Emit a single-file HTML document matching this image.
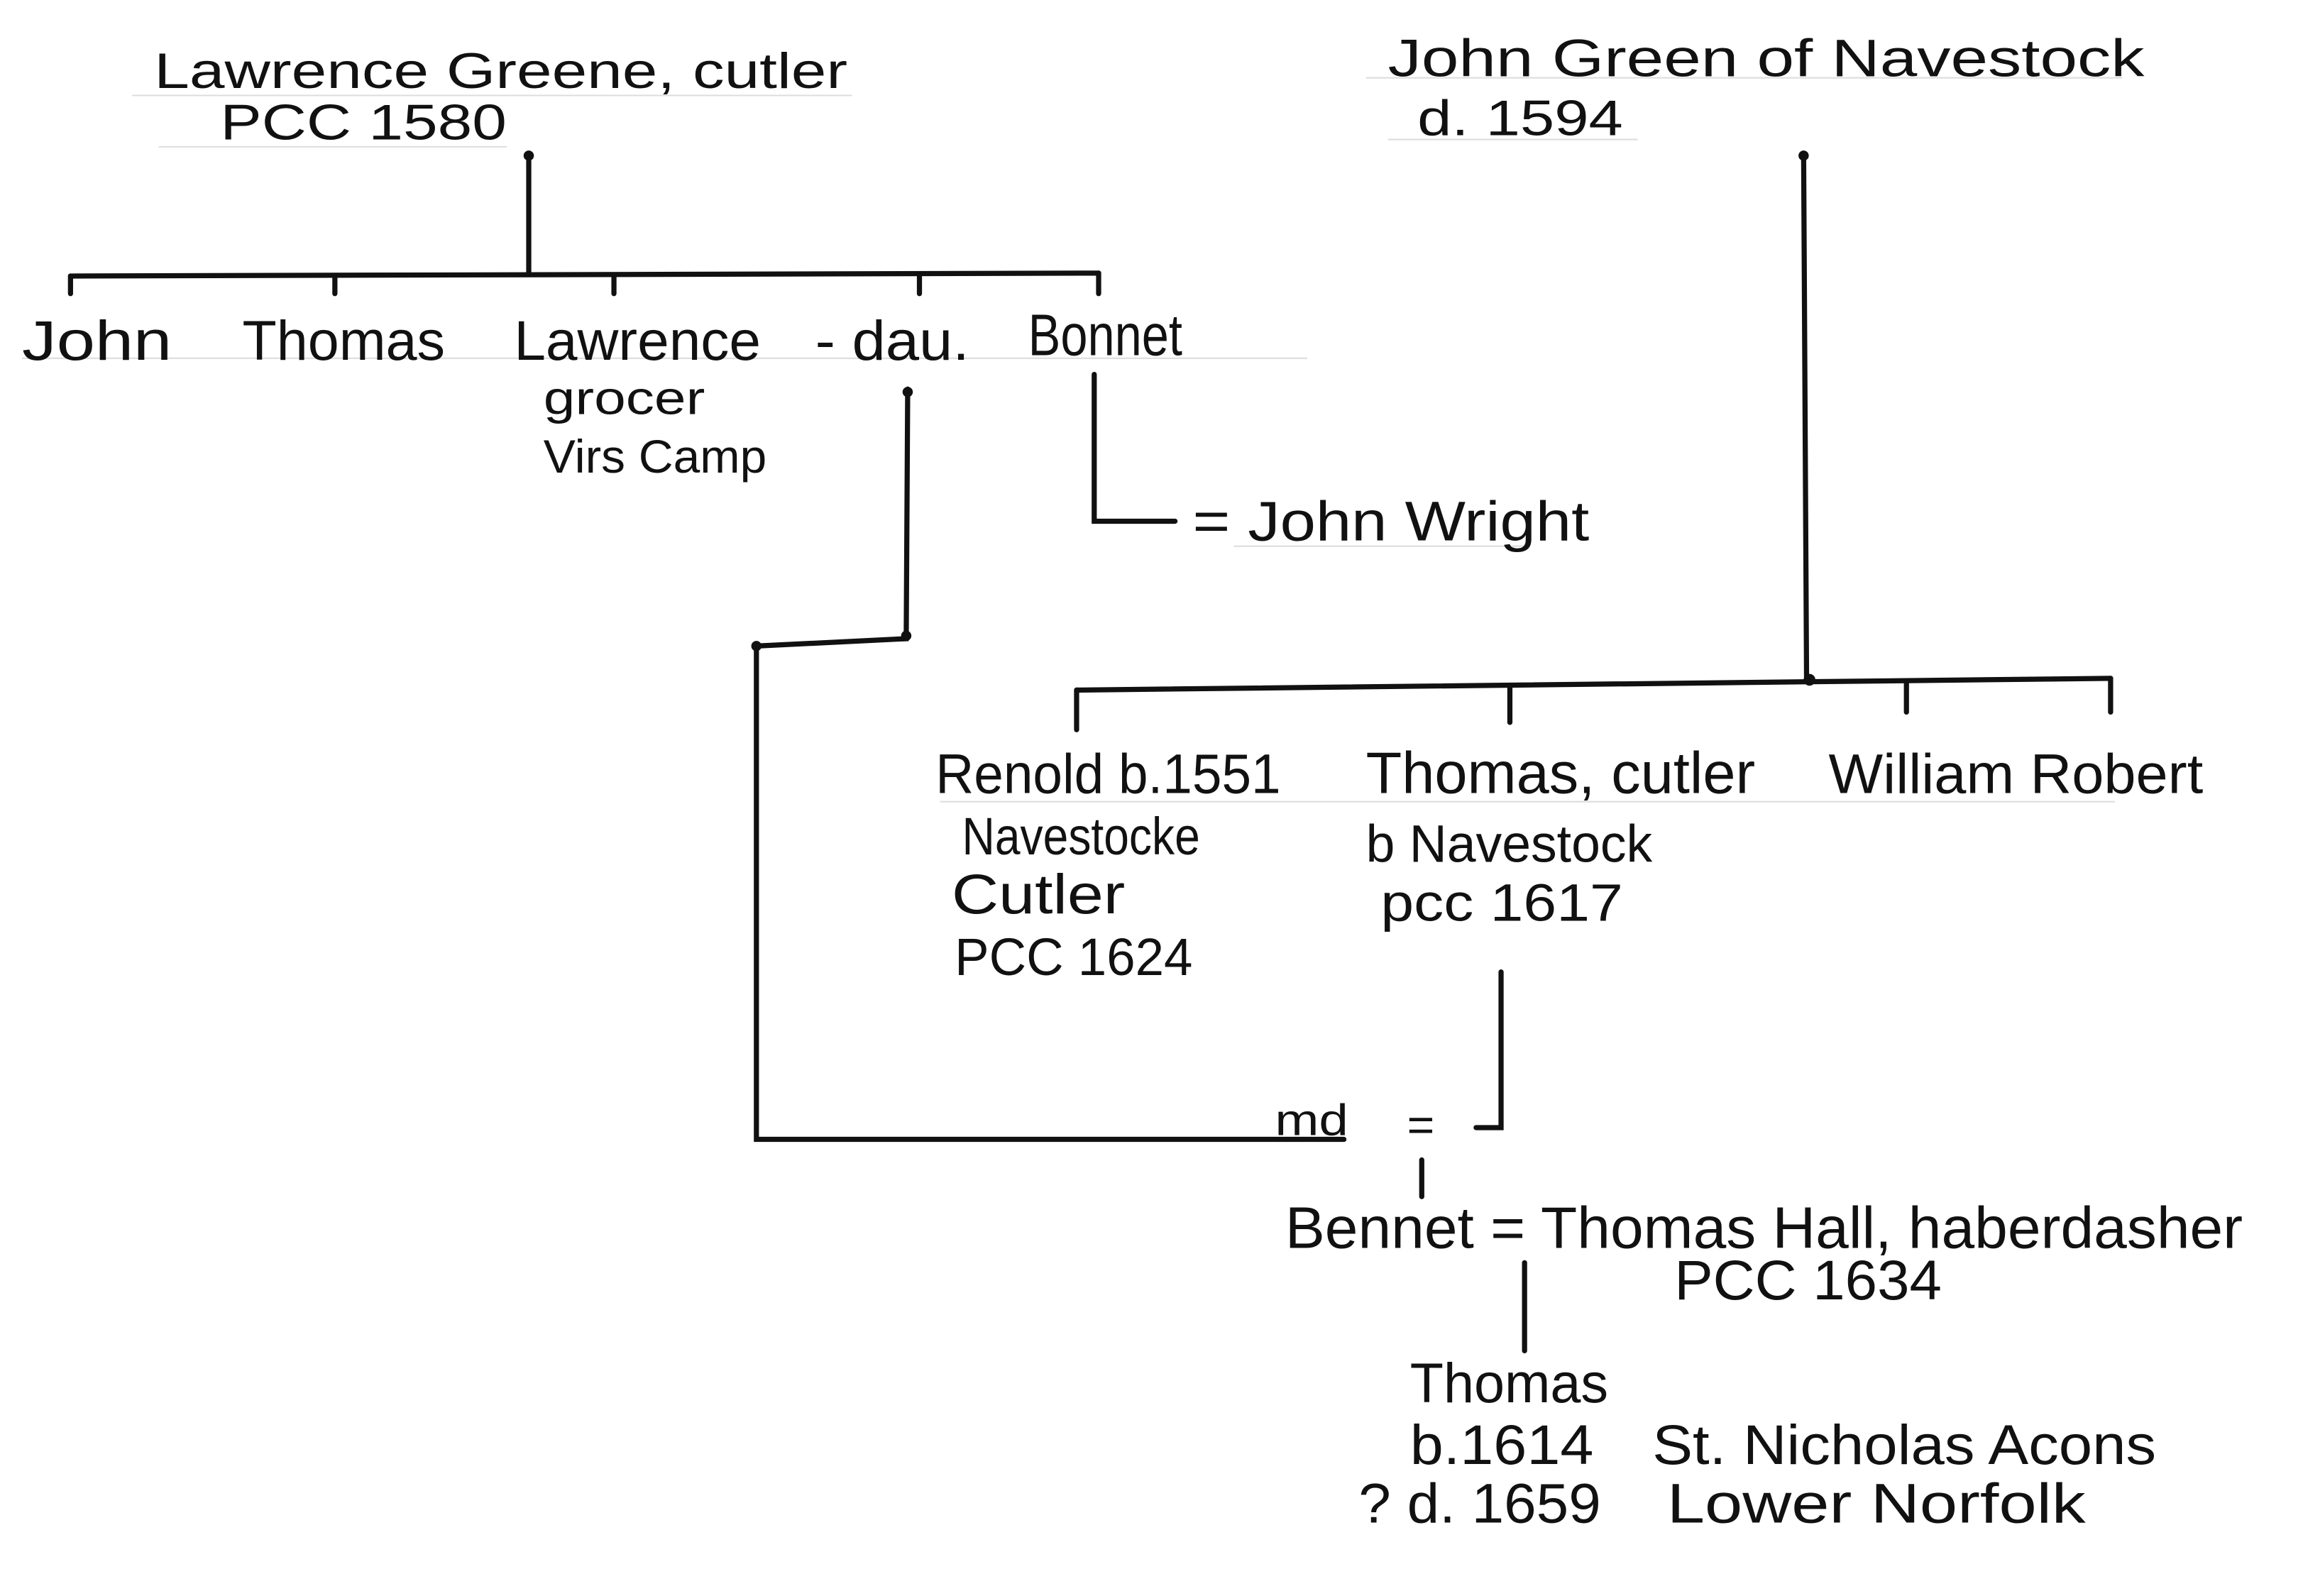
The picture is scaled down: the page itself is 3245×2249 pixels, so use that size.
<!DOCTYPE html>
<html><head><meta charset="utf-8"><style>
html,body{margin:0;padding:0;background:#fff;}
svg{display:block}
text{font-family:"Liberation Sans",sans-serif;fill:#111;}
</style></head><body>
<svg width="3245" height="2249" viewBox="0 0 1568 1087" preserveAspectRatio="none" xmlns="http://www.w3.org/2000/svg">
<rect width="1568" height="1087" fill="#fff"/>
<g stroke="#ddd" stroke-width="1">
<line x1="90" y1="65" x2="580" y2="65"/><line x1="108" y1="100" x2="345" y2="100"/>
<line x1="15" y1="244" x2="890" y2="244"/><line x1="840" y1="372" x2="1040" y2="372"/>
<line x1="930" y1="53" x2="1445" y2="53"/><line x1="945" y1="95" x2="1115" y2="95"/>
<line x1="640" y1="546" x2="1440" y2="546"/>
</g>
<g stroke="#111" stroke-width="3.5" fill="none" stroke-linecap="round">
<line x1="360" y1="105" x2="360" y2="187"/>
<line x1="48" y1="188" x2="748" y2="186"/>
<line x1="48" y1="188" x2="48" y2="200"/><line x1="228" y1="188" x2="228" y2="200"/>
<line x1="418" y1="188" x2="418" y2="200"/><line x1="626" y1="187" x2="626" y2="200"/>
<line x1="748" y1="186" x2="748" y2="200"/>
<polyline points="618,265 617,435 515,440 515,776 915,776"/>
<polyline points="745,255 745,355 800,355"/>
<line x1="1228" y1="105" x2="1230" y2="462"/>
<line x1="733" y1="470" x2="1437" y2="462"/>
<line x1="733" y1="470" x2="733" y2="497"/><line x1="1028" y1="467" x2="1028" y2="492"/>
<line x1="1298" y1="465" x2="1298" y2="485"/><line x1="1437" y1="462" x2="1437" y2="485"/>
<polyline points="1022,662 1022,768 1005,768"/>
<line x1="968" y1="790" x2="968" y2="815"/>
<line x1="1038" y1="860" x2="1038" y2="920"/>
</g>
<g fill="#111">
<circle cx="360" cy="106" r="3.5"/><circle cx="1228" cy="106" r="3.5"/>
<circle cx="1232" cy="463" r="4"/><circle cx="617" cy="433" r="3.5"/><circle cx="515" cy="440" r="3.5"/>
<circle cx="618" cy="267" r="3.5"/>
</g>
<text x="105" y="60" font-size="34" textLength="472" lengthAdjust="spacingAndGlyphs">Lawrence Greene, cutler</text>
<text x="150" y="95" font-size="34" textLength="195" lengthAdjust="spacingAndGlyphs">PCC  1580</text>
<text x="15" y="245" font-size="38" textLength="102" lengthAdjust="spacingAndGlyphs">John</text>
<text x="165" y="245" font-size="38" textLength="138" lengthAdjust="spacingAndGlyphs">Thomas</text>
<text x="350" y="245" font-size="38" textLength="168" lengthAdjust="spacingAndGlyphs">Lawrence</text>
<text x="555" y="245" font-size="38" textLength="105" lengthAdjust="spacingAndGlyphs">- dau.</text>
<text x="700" y="242" font-size="40" textLength="105" lengthAdjust="spacingAndGlyphs">Bonnet</text>
<text x="370" y="282" font-size="32" textLength="110" lengthAdjust="spacingAndGlyphs">grocer</text>
<text x="370" y="322" font-size="32" textLength="152" lengthAdjust="spacingAndGlyphs">Virs Camp</text>
<text x="812" y="368" font-size="38" textLength="270" lengthAdjust="spacingAndGlyphs">= John Wright</text>
<text x="945" y="52" font-size="36" textLength="515" lengthAdjust="spacingAndGlyphs">John Green of Navestock</text>
<text x="965" y="92" font-size="34" textLength="140" lengthAdjust="spacingAndGlyphs">d. 1594</text>
<text x="637" y="540" font-size="38" textLength="235" lengthAdjust="spacingAndGlyphs">Renold b.1551</text>
<text x="930" y="540" font-size="40" textLength="265" lengthAdjust="spacingAndGlyphs">Thomas, cutler</text>
<text x="1245" y="540" font-size="38" textLength="255" lengthAdjust="spacingAndGlyphs">William Robert</text>
<text x="655" y="582" font-size="36" textLength="162" lengthAdjust="spacingAndGlyphs">Navestocke</text>
<text x="648" y="622" font-size="38" textLength="118" lengthAdjust="spacingAndGlyphs">Cutler</text>
<text x="650" y="664" font-size="36" textLength="162" lengthAdjust="spacingAndGlyphs">PCC 1624</text>
<text x="930" y="587" font-size="36" textLength="195" lengthAdjust="spacingAndGlyphs">b Navestock</text>
<text x="940" y="627" font-size="36" textLength="165" lengthAdjust="spacingAndGlyphs">pcc 1617</text>
<text x="868" y="773" font-size="30" textLength="50" lengthAdjust="spacingAndGlyphs">md</text>
<text x="958" y="777" font-size="32">=</text>
<text x="875" y="850" font-size="40" textLength="652" lengthAdjust="spacingAndGlyphs">Bennet = Thomas Hall, haberdasher</text>
<text x="1140" y="885" font-size="38" textLength="182" lengthAdjust="spacingAndGlyphs">PCC 1634</text>
<text x="960" y="955" font-size="38" textLength="135" lengthAdjust="spacingAndGlyphs">Thomas</text>
<text x="960" y="997" font-size="38" textLength="125" lengthAdjust="spacingAndGlyphs">b.1614</text>
<text x="1125" y="997" font-size="38" textLength="343" lengthAdjust="spacingAndGlyphs">St. Nicholas Acons</text>
<text x="925" y="1037" font-size="38" textLength="165" lengthAdjust="spacingAndGlyphs">? d. 1659</text>
<text x="1135" y="1037" font-size="38" textLength="285" lengthAdjust="spacingAndGlyphs">Lower  Norfolk</text>
</svg>
</body></html>
